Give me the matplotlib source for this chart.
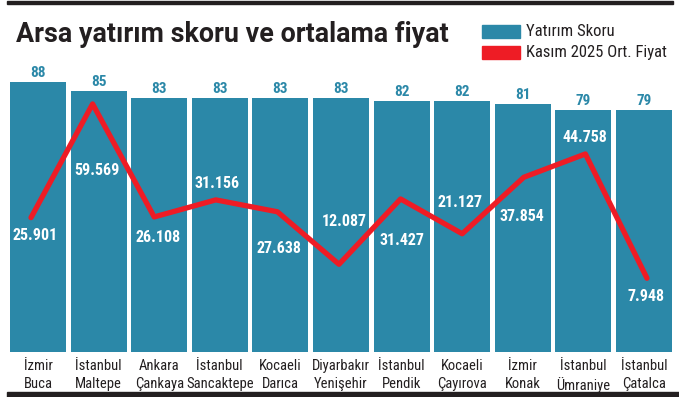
import matplotlib
matplotlib.use("Agg")
import matplotlib.pyplot as plt
import matplotlib.font_manager as fm
from matplotlib.patches import Rectangle

categories = ["İzmir\nBuca", "İstanbul\nMaltepe", "Ankara\nÇankaya", "İstanbul\nSancaktepe",
              "Kocaeli\nDarıca", "Diyarbakır\nYenişehir", "İstanbul\nPendik", "Kocaeli\nÇayırova",
              "İzmir\nKonak", "İstanbul\nÜmraniye", "İstanbul\nÇatalca"]
scores = [88, 85, 83, 83, 83, 83, 82, 82, 81, 79, 79]
prices = [25.901, 59.569, 26.108, 31.156, 27.638, 12.087, 31.427, 21.127, 37.854, 44.758, 7.948]
price_labels = ["25.901", "59.569", "26.108", "31.156", "27.638", "12.087",
                "31.427", "21.127", "37.854", "44.758", "7.948"]

# label offsets (pixels) relative to line points
label_dx = [4, 4, 4, 1, 2, 5, 1, -2, -2, -1, -1]
label_dy = [-18, -67, -21, 16, -37, 43, -42, 31, -39, 16, -18]


def find_font(prefs, bold):
    bad = ["italic", "oblique", "light", "thin", "medium", "black", "semibold", "extra"]
    files = [f.fname for f in fm.fontManager.ttflist]
    for p in prefs:
        for fn in files:
            low = fn.lower().split("/")[-1].replace("-", "").replace("_", "")
            if not low.startswith(p):
                continue
            if p == "roboto" and ("condensed" in low or "mono" in low or "slab" in low
                                  or "flex" in low or "serif" in low):
                continue
            if any(b in low for b in bad):
                continue
            isbold = "bold" in low
            if isbold == bold:
                return fm.FontProperties(fname=fn)
    return fm.FontProperties(family="DejaVu Sans", stretch="condensed",
                             weight="bold" if bold else "normal")


COND_PREFS = ["robotocondensed", "liberationsansnarrow", "dejavusanscondensed"]
REG = find_font(COND_PREFS, False)
BOLD = find_font(COND_PREFS, True)
TITLE = find_font(["roboto", "robotocondensed"], True)


def fp(base, size):
    f = base.copy()
    f.set_size(size)
    return f


BAR = "#2b88a8"
RED = "#ee1c25"
INK = "#231f20"
W, H = 679, 397
fig = plt.figure(figsize=(W / 100, H / 100), dpi=100)

x = list(range(len(categories)))
ax = fig.add_axes([10 / W, (H - 352) / H, 662 / W, (352 - 70) / H])
ax.bar(x, scores, width=0.924, color=BAR, zorder=1)
ax.set_xlim(-0.462, 10.462)
ax.set_ylim(0, 92.0)
for s in ax.spines.values():
    s.set_visible(False)
ax.set_yticks([])
ax.set_xticks(x)
ax.set_xticklabels(categories, fontproperties=fp(REG, 10.5), color=INK, linespacing=1.35)
ax.tick_params(axis="x", length=0, pad=5)
for i, v in enumerate(scores):
    ax.annotate(str(v), (i, v), xytext=(0, 2), textcoords="offset pixels", ha="center",
                va="bottom", fontproperties=fp(BOLD, 11), color=BAR)

ax2 = fig.add_axes(ax.get_position(), facecolor="none")
ax2.plot(x, prices, color=RED, lw=3.8, solid_joinstyle="round", solid_capstyle="round", zorder=3)
ax2.set_xlim(-0.341, 10.406)
ax2.set_ylim(-13.89, 69.62)
ax2.axis("off")
for i, (v, t) in enumerate(zip(prices, price_labels)):
    ax2.annotate(t, (i, v), xytext=(label_dx[i], label_dy[i]), textcoords="offset pixels",
                 ha="center", va="center", fontproperties=fp(BOLD, 11.5),
                 color="white", zorder=4)

# title
fig.text(16 / W, 1 - 35 / H, "Arsa yatırım skoru ve ortalama fiyat", fontproperties=fp(TITLE, 19.4),
         color=INK, ha="left", va="center")

# legend
fig.patches.append(Rectangle((482 / W, 1 - 38.3 / H), 38 / W, 13.3 / H, transform=fig.transFigure,
                             color=BAR))
fig.patches.append(Rectangle((482 / W, 1 - 59.3 / H), 38 / W, 13.3 / H, transform=fig.transFigure,
                             color=RED))
fig.text(526 / W, 1 - 32 / H, "Yatırım Skoru", fontproperties=fp(REG, 12), color=INK,
         ha="left", va="center")
fig.text(526 / W, 1 - 52.5 / H, "Kasım 2025 Ort. Fiyat", fontproperties=fp(REG, 12),
         color=INK, ha="left", va="center")

# top rule and bottom band
fig.patches.append(Rectangle((7 / W, 1 - 3.5 / H), 666 / W, 2.5 / H, transform=fig.transFigure,
                             color=INK))
fig.patches.append(Rectangle((7 / W, 0), 672 / W, 5.5 / H, transform=fig.transFigure,
                             color=INK))

fig.savefig("out.png", dpi=100)
